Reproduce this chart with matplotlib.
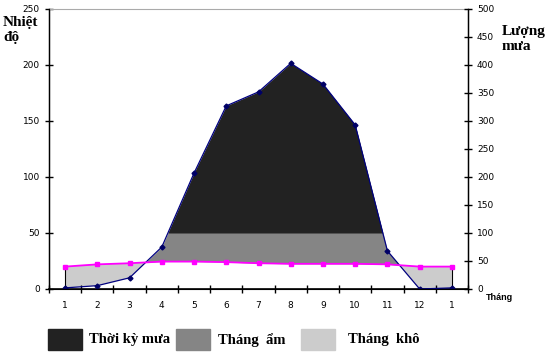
import numpy as np
import matplotlib.pyplot as plt
from matplotlib.patches import Rectangle

# data
months = ["1", "2", "3", "4", "5", "6", "7", "8", "9", "10", "11", "12", "1"]
temp = np.array([20, 22, 23, 24.5, 24.5, 24, 23, 22.5, 22.5, 22.5, 22, 20, 20])
rain = np.array([2, 6, 20, 75, 207, 327, 352, 403, 366, 293, 68, 0, 2])

dark = "#222222"
mid = "#858585"
light = "#cccccc"

x = np.arange(len(months))
rain_t = rain / 2  # P = 2T scale

fig = plt.figure(figsize=(5.5, 3.55), dpi=100)
ax = fig.add_axes([49 / 550, 1 - 289 / 355, (468 - 49) / 550, (289 - 9) / 355])

# humid part (rain above temperature), then rainy part above 100 mm on top
ax.fill_between(x, temp, rain_t, where=rain_t > temp, interpolate=True,
                color=mid, lw=0, zorder=1)
ax.fill_between(x, 50, rain_t, where=rain_t > 50, interpolate=True,
                color=dark, lw=0, zorder=2)
ax.fill_between(x, rain_t, temp, where=rain_t < temp, interpolate=True,
                color=light, lw=0, zorder=1)
ax.vlines([x[0], x[-1]], rain_t[[0, -1]], temp[[0, -1]], color="k", lw=0.8, zorder=3)

ax.plot(x, rain_t, color="#000080", lw=0.9, marker="D", ms=2.5,
        mfc="#000066", mec="#000066", zorder=4)
ax.plot(x, temp, color="#ff00ff", lw=1.3, marker="s", ms=3.5,
        mfc="#ff00ff", mec="#ff00ff", zorder=5)

ax.set_xlim(-0.5, len(months) - 0.5)
ax.set_ylim(0, 250)
ax.set_yticks(np.arange(0, 251, 50))
ax.set_xticks(np.arange(-0.5, len(months), 1))
ax.set_xticklabels([])
ax.set_xticks(x, minor=True)
ax.set_xticklabels(months, minor=True)
ax.tick_params(axis="x", which="major", direction="inout", length=6, width=1)
ax.tick_params(axis="x", which="minor", length=0, pad=9, labelsize=6.5)
ax.tick_params(axis="y", direction="inout", length=6, width=1, labelsize=6.5)
ax.spines["top"].set_color("#aaaaaa")
ax.spines["left"].set_linewidth(1)
ax.spines["bottom"].set_linewidth(1.2)

ax2 = ax.twinx()
ax2.set_ylim(0, 500)
ax2.set_yticks(np.arange(0, 501, 50))
ax2.tick_params(axis="y", direction="inout", length=6, width=1, labelsize=6.5)
ax2.spines["top"].set_visible(False)
ax2.spines["right"].set_linewidth(1)

serif = "Liberation Serif"
fig.text(3 / 550, 1 - 16 / 355, "Nhiệt\nđộ", family=serif, weight="bold",
         fontsize=11, va="top", linespacing=1.2)
fig.text(502 / 550, 1 - 25 / 355, "Lượng\nmưa", family=serif, weight="bold",
         fontsize=11, va="top", linespacing=1.2)
fig.text(486 / 550, 1 - 297 / 355, "Tháng", family="Liberation Sans",
         weight="bold", fontsize=6.5, va="center")

legend = [(dark, "Thời kỳ mưa", 48, 89),
          (mid, "Tháng  ẩm", 176, 218),
          (light, "Tháng  khô", 301, 348)]
for col, lab, px, tx in legend:
    fig.patches.append(Rectangle((px / 550, 1 - 350 / 355), 34 / 550, 21 / 355,
                                 transform=fig.transFigure, color=col))
    fig.text(tx / 550, 1 - 340 / 355, lab, family=serif, weight="bold",
             fontsize=10.5, va="center")

fig.savefig("out.png", dpi=100)
